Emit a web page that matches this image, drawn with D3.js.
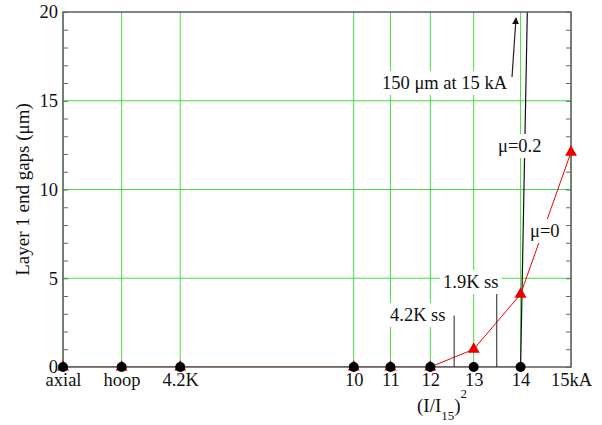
<!DOCTYPE html>
<html>
<head>
<meta charset="utf-8">
<script src="https://cdn.jsdelivr.net/npm/d3@7"></script>
<style>
  body { margin: 0; background: #fff; }
</style>
</head>
<body>
<div id="chart"></div>
<script>
// x categories: first three are load cases, the rest are currents placed at (I/I15)^2
var categories = ['axial', 'hoop', '4.2K', '10', '11', '12', '13', '14', '15kA'];
var x_positions = [-0.3, -0.15, 0, 0.444, 0.538, 0.64, 0.751, 0.871, 1.0];

// layer 1 end gaps (um)
var gap_mu_02 = [0, 0, 0, 0, 0, 0, 0, 0, 150];
var gap_mu_0 = [0, 0, 0, 0, 0, 0, 1.0, 4.1, 12.1];

var y_ticks = [0, 5, 10, 15, 20];
var y_grid = [5, 10, 15];

// short sample limits, in (I/I15)^2 and um
var ss_limits = [
  { label: '4.2K ss', x: 0.701, y: 2.9 },
  { label: '1.9K ss', x: 0.81, y: 4.2 }
];

var width = 602, height = 425;
var plot = { left: 63, right: 571, top: 12, bottom: 367 };
var serif = '"Liberation Serif", "Times New Roman", Times, serif';

var svg = d3.select('#chart').append('svg')
  .attr('width', width)
  .attr('height', height)
  .attr('font-family', serif)
  .style('font-family', serif);

var x = d3.scaleLinear().domain([-0.3, 1]).range([plot.left, plot.right]);
var y = d3.scaleLinear().domain([0, 20]).range([plot.bottom, plot.top]);

var defs = svg.append('defs');
defs.append('clipPath').attr('id', 'clip')
  .append('rect')
  .attr('x', plot.left).attr('y', plot.top)
  .attr('width', plot.right - plot.left)
  .attr('height', plot.bottom - plot.top);

defs.append('marker')
  .attr('id', 'arrow')
  .attr('viewBox', '0 0 10 10')
  .attr('refX', 9).attr('refY', 5)
  .attr('markerWidth', 7).attr('markerHeight', 7)
  .attr('markerUnits', 'userSpaceOnUse')
  .attr('orient', 'auto')
  .append('path')
  .attr('d', 'M0,0 L10,5 L0,10 z')
  .attr('fill', '#111');

// grid
var grid = svg.append('g').attr('class', 'grid');
grid.selectAll('line.v').data(x_positions).enter().append('line')
  .attr('class', 'v')
  .attr('x1', function(d){ return x(d); })
  .attr('x2', function(d){ return x(d); })
  .attr('y1', plot.top).attr('y2', plot.bottom)
  .attr('stroke', '#44dd44').attr('stroke-width', 1);
grid.selectAll('line.h').data(y_grid).enter().append('line')
  .attr('class', 'h')
  .attr('x1', plot.left).attr('x2', plot.right)
  .attr('y1', function(d){ return y(d); })
  .attr('y2', function(d){ return y(d); })
  .attr('stroke', '#44dd44').attr('stroke-width', 1);

// series lines
var line = d3.line()
  .x(function(d){ return x(d[0]); })
  .y(function(d){ return y(d[1]); });

var series = svg.append('g').attr('clip-path', 'url(#clip)');
series.append('path')
  .datum(d3.zip(x_positions, gap_mu_02))
  .attr('d', line)
  .attr('fill', 'none').attr('stroke', '#111').attr('stroke-width', 1.2);
series.append('path')
  .datum(d3.zip(x_positions, gap_mu_0))
  .attr('d', line)
  .attr('fill', 'none').attr('stroke', '#e00').attr('stroke-width', 1);

// axes (frame drawn over the lines lying on zero)
var y_left = svg.append('g')
  .attr('transform', 'translate(' + plot.left + ',0)')
  .call(d3.axisLeft(y).ticks(20).tickSize(-5).tickPadding(5)
    .tickFormat(function(d){ return y_ticks.indexOf(d) >= 0 ? d : ''; }));
var y_right = svg.append('g')
  .attr('transform', 'translate(' + plot.right + ',0)')
  .call(d3.axisRight(y).ticks(20).tickSize(-5).tickFormat(''));
var x_bottom = svg.append('g')
  .attr('transform', 'translate(0,' + plot.bottom + ')')
  .call(d3.axisBottom(x).tickValues(x_positions).tickSize(0).tickPadding(6)
    .tickFormat(function(d, i){ return categories[i]; }));

[y_left, y_right, x_bottom].forEach(function(a){
  a.attr('font-family', serif);
  a.select('.domain').remove();
  a.selectAll('line').attr('stroke', '#666');
  a.selectAll('text').attr('font-size', '18.5px').attr('fill', '#111');
});

svg.append('rect')
  .attr('x', plot.left).attr('y', plot.top)
  .attr('width', plot.right - plot.left)
  .attr('height', plot.bottom - plot.top)
  .attr('fill', 'none')
  .attr('stroke', '#666').attr('stroke-width', 1.6);

// markers
var triangle = d3.symbol().type(d3.symbolTriangle).size(62);
svg.append('g').selectAll('path').data(d3.zip(x_positions, gap_mu_0)).enter().append('path')
  .attr('d', triangle)
  .attr('transform', function(d){ return 'translate(' + x(d[0]) + ',' + y(d[1]) + ')'; })
  .attr('fill', '#e00');
svg.append('g').selectAll('circle')
  .data(d3.zip(x_positions, gap_mu_02).filter(function(d){ return d[1] <= 20; }))
  .enter().append('circle')
  .attr('cx', function(d){ return x(d[0]); })
  .attr('cy', function(d){ return y(d[1]); })
  .attr('r', 5)
  .attr('fill', '#000');

// short sample leader lines
svg.append('g').selectAll('line').data(ss_limits).enter().append('line')
  .attr('x1', function(d){ return x(d.x); })
  .attr('x2', function(d){ return x(d.x); })
  .attr('y1', function(d){ return y(d.y); })
  .attr('y2', plot.bottom)
  .attr('stroke', '#222').attr('stroke-width', 1);

// arrow to the off-scale point
svg.append('line')
  .attr('x1', 512).attr('y1', 77)
  .attr('x2', 516).attr('y2', 18)
  .attr('stroke', '#222').attr('stroke-width', 1.2)
  .attr('marker-end', 'url(#arrow)');

// labels with white boxes
var notes = [
  { text: '150 \u03bcm at 15 kA', x: 382, y: 89 },
  { text: '\u03bc=0.2', x: 498, y: 152 },
  { text: '\u03bc=0', x: 530, y: 237 },
  { text: '1.9K ss', x: 443, y: 288 },
  { text: '4.2K ss', x: 390, y: 321 }
];
notes.forEach(function(n){
  var g = svg.append('g');
  var bg = g.append('rect').attr('fill', '#fff');
  var t = g.append('text')
    .attr('x', n.x).attr('y', n.y)
    .attr('font-family', serif)
    .attr('font-size', '18.5px')
    .attr('fill', '#111')
    .text(n.text);
  var box = t.node().getBBox();
  bg.attr('x', box.x - 3).attr('y', box.y - 2)
    .attr('width', box.width + 6).attr('height', box.height + 4);
});

// axis titles
svg.append('text')
  .attr('transform', 'translate(28.5,' + ((plot.top + plot.bottom) / 2) + ') rotate(-90)')
  .attr('text-anchor', 'middle')
  .attr('font-family', serif)
  .attr('font-size', '19px')
  .attr('fill', '#111')
  .text('Layer 1 end gaps (\u03bcm)');

var x_title = svg.append('text')
  .attr('x', 417).attr('y', 412)
  .attr('font-family', serif)
  .attr('font-size', '19px')
  .attr('fill', '#111');
x_title.append('tspan').text('(I/I');
x_title.append('tspan').attr('dy', 8).attr('font-size', '13px').text('15');
x_title.append('tspan').attr('dy', -8).text(')');
x_title.append('tspan').attr('dy', -14).attr('font-size', '13px').text('2');
</script>
</body>
</html>
